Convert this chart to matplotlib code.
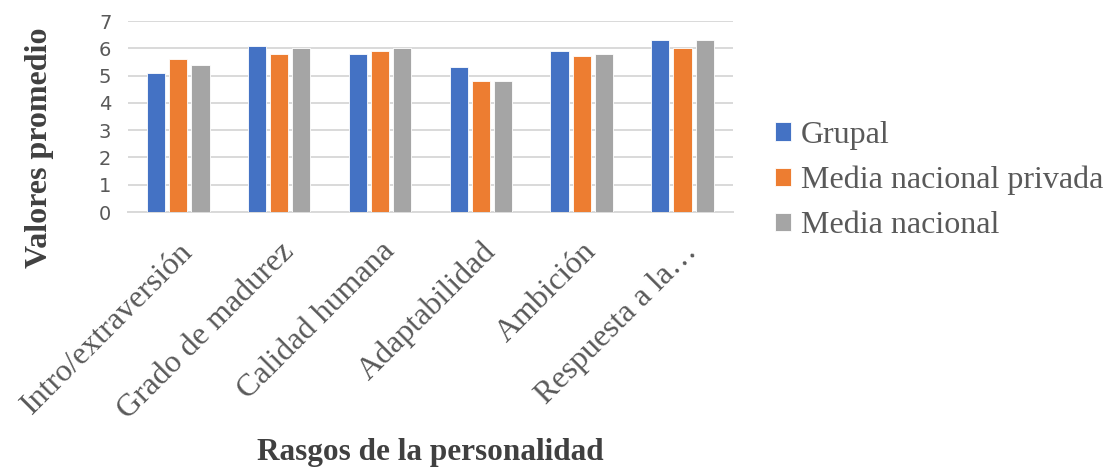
import matplotlib.pyplot as plt
import numpy as np

categories = [
    "Intro/extraversión",
    "Grado de madurez",
    "Calidad humana",
    "Adaptabilidad",
    "Ambición",
    "Respuesta a la…",
]
grupal = [5.1, 6.1, 5.8, 5.3, 5.9, 6.3]
media_privada = [5.6, 5.8, 5.9, 4.8, 5.7, 6.0]
media_nacional = [5.4, 6.0, 6.0, 4.8, 5.8, 6.3]

series = [
    ("Grupal", grupal, "#4472C4"),
    ("Media nacional privada", media_privada, "#ED7D31"),
    ("Media nacional", media_nacional, "#A5A5A5"),
]

SERIF = ["Liberation Serif", "DejaVu Serif"]
TEXT_GRAY = "#595959"

fig = plt.figure(figsize=(11.09, 4.67), dpi=100)
ax = fig.add_axes([0.1154, 0.546, 0.5455, 0.409])

x = np.arange(len(categories))
width = 0.18
step = 0.22
for i, (name, values, color) in enumerate(series):
    ax.bar(x + (i - 1) * step, values, width, color=color, label=name,
           edgecolor="white", linewidth=0.6, zorder=3)

ax.set_xlim(-0.5, len(categories) - 0.5)
ax.set_ylim(0, 7)
ax.set_yticks(range(0, 8))
ax.yaxis.grid(True, color="#D9D9D9", linewidth=1.4, zorder=0)
for side in ["top", "right", "left"]:
    ax.spines[side].set_visible(False)
ax.spines["bottom"].set_color("#D9D9D9")
ax.spines["bottom"].set_linewidth(1.4)
ax.tick_params(axis="both", length=0, colors=TEXT_GRAY)
ax.tick_params(axis="y", labelsize=14, pad=12)

ax.set_xticks(x)
ax.set_xticklabels(categories, rotation=45, ha="right", rotation_mode="anchor",
                   family=SERIF, fontsize=23, color=TEXT_GRAY)
ax.tick_params(axis="x", pad=18)

# axis titles placed on the figure, like the spreadsheet chart
fig.text(0.036, 0.683, "Valores promedio", family=SERIF, fontsize=23,
         fontweight="bold", color="#404040", rotation=90,
         ha="center", va="center")
fig.text(0.388, 0.015, "Rasgos de la personalidad", family=SERIF, fontsize=22.5,
         fontweight="bold", color="#404040", ha="center")

legend = ax.legend(loc="center left", bbox_to_anchor=(1.022, 0.165), frameon=False,
                   prop={"family": SERIF, "size": 23}, handlelength=0.5,
                   handleheight=0.5, handletextpad=0.3, labelspacing=0.5)
for text in legend.get_texts():
    text.set_color(TEXT_GRAY)

fig.savefig("out.png", dpi=100)
plt.close(fig)
